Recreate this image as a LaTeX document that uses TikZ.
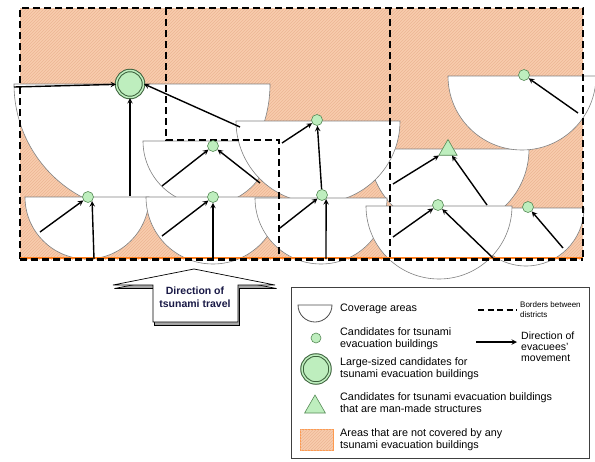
\documentclass[tikz,border=0pt]{standalone}
\usepackage{fontspec}
\setmainfont{Liberation Sans}
\usetikzlibrary{arrows, shapes.geometric, patterns}

\definecolor{peach}{RGB}{248,204,174}
\definecolor{hatchline}{RGB}{236,182,148}
\definecolor{candfill}{RGB}{190,238,190}
\definecolor{candline}{RGB}{86,138,86}
\definecolor{covergray}{RGB}{128,128,128}
\definecolor{edgeorange}{RGB}{255,128,30}
\definecolor{tsunamitext}{RGB}{25,25,70}

\begin{document}
\begin{tikzpicture}[x=1pt, y=-1pt, >=stealth,
    uncovered/.style={fill=peach,
      postaction={pattern=north east lines, pattern color=hatchline}},
    cover/.style={fill=white, draw=covergray, line width=0.6pt},
    district/.style={line width=2pt, dash pattern=on 7pt off 4pt},
    evac/.style={->, line width=1.4pt},
    cand/.style={circle, draw=candline, fill=candfill, line width=0.6pt,
      minimum size=11pt, inner sep=0pt},
    bigcand/.style={circle, draw=candline!70!black, line width=1pt,
      double=candfill, double distance=1.5pt, fill=candfill,
      minimum size=27pt, inner sep=0pt},
    manmade/.style={regular polygon, regular polygon sides=3, draw=candline,
      fill=candfill, line width=0.6pt, minimum size=21pt, inner sep=0pt},
    legendtext/.style={anchor=west, align=left, inner sep=0pt,
      font=\fontsize{10.8}{12}\selectfont}]
  \useasboundingbox (0,0) rectangle (595,461);

  % areas with no evacuation building
  \fill[uncovered] (20,8) rectangle (583,259);

  % coverage areas (centre x / flat top y / radius)
  \foreach \cx/\cy/\r in {142/84/128, 207/141/64, 449/149/80, 318/121/82,
      522/76/74, 87/197/62, 213/197/67, 321/198/66, 526/208/58, 439/206/73}
    \filldraw[cover] (\cx-\r,\cy) arc[start angle=180, end angle=0, radius=\r] -- cycle;

  % district borders
  \draw[district] (20,259) -- (20,8) -- (583,8) -- (583,259);
  \draw[district] (166,8) -- (166,140) -- (279,140) -- (279,259);
  \draw[district] (390,8) -- (390,259);
  \draw[edgeorange, line width=2.5pt] (20,258) -- (583,258);
  \draw[district, line width=3pt] (20,259.5) -- (583,259.5);

  % candidates
  \node[bigcand] (big) at (130,84) {};
  \node[cand] (c1) at (88,197) {};
  \node[cand] (c2) at (213,146) {};
  \node[cand] (c3) at (213,197) {};
  \node[cand] (c4) at (317,120) {};
  \node[cand] (c5) at (322,195) {};
  \node[manmade] (t1) at (448,150) {};
  \node[cand] (c6) at (438,205) {};
  \node[cand] (c7) at (528,207) {};
  \node[cand] (c8) at (524,75) {};

  % movement of evacuees
  \foreach \n/\p in {s1/{14,87}, s2/{130,196}, s3/{240,127}, s4/{40,232},
      s5/{94,259}, s6/{162,186}, s7/{260,183}, s8/{162,236}, s9/{213,259},
      s10/{282,143}, s11/{280,228}, s12/{326,259}, s13/{393,184},
      s14/{487,205}, s15/{393,237}, s16/{493,258}, s17/{563,248},
      s18/{578,113}}
    \coordinate (\n) at (\p);
  \foreach \s/\t in {s1/big, s2/big.south, s3/big.east, s4/c1, s5/c1.south east,
      s6/c2, s7/c2, s8/c3, s9/c3, s10/c4, c5/c4, s11/c5, s12/c5.south east,
      s13/t1, s14/t1, s15/c6, s16/c6, s17/c7, s18/c8}
    \draw[evac] (\s) -- (\t);

  % tsunami arrow
  \filldraw[fill=gray!70, draw=black, line width=0.7pt, shift={(1.5,3.5)}]
    (153,322) -- (153,285) -- (113,285) -- (194,269) -- (275,285)
    -- (238,285) -- (238,322) -- cycle;
  \filldraw[fill=white, draw=black, line width=0.7pt]
    (153,322) -- (153,285) -- (113,285) -- (194,269) -- (275,285)
    -- (238,285) -- (238,322) -- cycle;
  \node[align=center, inner sep=0pt, text=tsunamitext,
    font=\fontsize{10.5}{13.5}\selectfont\bfseries] (tsunami) at (195,297)
    {Direction of\\tsunami travel};

  % legend
  \draw[draw=gray!50!black, line width=0.8pt] (291,287) rectangle (589,458);
  \filldraw[cover, draw=gray!60!black, line width=0.8pt]
    (298,305) arc[start angle=180, end angle=0, radius=17] -- cycle;
  \node[legendtext] (lcover) at (340,309) {Coverage areas};
  \node[cand, minimum size=10pt] (lcand) at (316,338) {};
  \node[legendtext] (lcandtext) at (340,339) {Candidates for tsunami\\evacuation buildings};
  \node[bigcand, minimum size=28pt] (lbig) at (316,369) {};
  \node[legendtext] (lbigtext) at (340,369) {Large-sized candidates for\\tsunami evacuation buildings};
  \node[manmade, minimum size=24pt] (lmade) at (315,407) {};
  \node[legendtext] (lmadetext) at (340,403) {Candidates for tsunami evacuation buildings\\that are man-made structures};
  \filldraw[uncovered, draw=edgeorange!80] (300,429) rectangle (333,450);
  \node[legendtext] (lareatext) at (340,440) {Areas that are not covered by any\\tsunami evacuation buildings};
  \coordinate (lb1) at (478,310);
  \coordinate (lb2) at (517,310);
  \draw[line width=1.3pt, dash pattern=on 6pt off 3.5pt] (lb1) -- (lb2);
  \node[legendtext, font=\fontsize{8}{10}\selectfont] (lbordtext) at (520,310) {Borders between\\districts};
  \coordinate (la1) at (476,342);
  \coordinate (la2) at (517,342);
  \draw[evac] (la1) -- (la2);
  \node[legendtext, font=\fontsize{10.5}{11}\selectfont] (larrtext) at (521,347) {Direction of\\evacuees'\\movement};
\end{tikzpicture}
\end{document}
